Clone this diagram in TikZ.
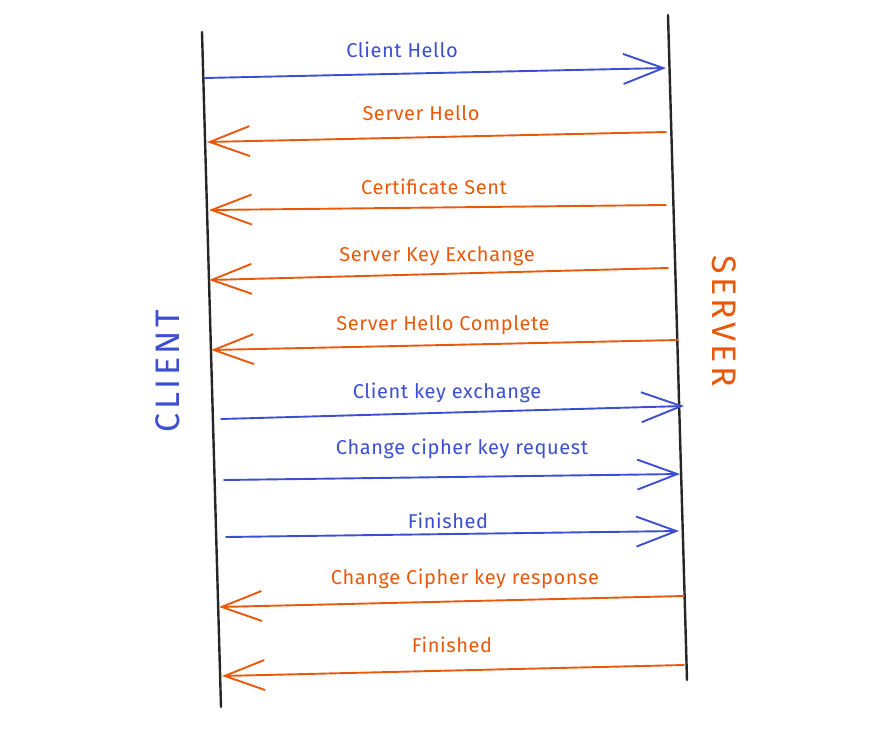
\documentclass[tikz,border=0pt]{standalone}
\usepackage{fontspec}
\setmainfont{Fira Sans}
\usetikzlibrary{arrows.meta}
\definecolor{cblue}{HTML}{3B4FD0}
\definecolor{corange}{HTML}{E8590C}
\tikzset{
  life/.style={draw=black!85, line width=2.4pt, line cap=round},
  msg/.style={line width=1.9pt, line cap=round, -{Straight Barb[length=40pt,width=30pt,line width=1.9pt]}},
  tomsg/.style={msg, draw=cblue},
  frommsg/.style={msg, draw=corange},
  lbl/.style={font=\fontsize{20}{24}\selectfont\addfontfeatures{LetterSpace=3}, inner sep=0pt},
  bl/.style={lbl, text=cblue},
  ol/.style={lbl, text=corange},
  party/.style={font=\fontsize{34}{40}\selectfont\addfontfeatures{LetterSpace=10}, inner sep=0pt},
}
\begin{document}
\begin{tikzpicture}[x=1pt,y=-1pt]
\useasboundingbox (0,0) rectangle (881,732);
% lifelines
\coordinate (c1) at (202,32); \coordinate (c2) at (221,707);
\coordinate (s1) at (668,15); \coordinate (s2) at (687,680);
\draw[life] (c1) -- (c2);
\draw[life] (s1) -- (s2);
\node[party, text=cblue, rotate=90] (client) at (168,371) {CLIENT};
\node[party, text=corange, rotate=-90] (server) at (724,321) {SERVER};
% messages
\coordinate (a1) at (204,78);  \coordinate (b1) at (666,68);
\coordinate (a2) at (666,132); \coordinate (b2) at (207,142);
\coordinate (a3) at (666,205); \coordinate (b3) at (209,210);
\coordinate (a4) at (668,268); \coordinate (b4) at (209,280);
\coordinate (a5) at (678,340); \coordinate (b5) at (211,350);
\coordinate (a6) at (221,419); \coordinate (b6) at (684,406);
\coordinate (a7) at (224,480); \coordinate (b7) at (680,474);
\coordinate (a8) at (226,537); \coordinate (b8) at (679,531);
\coordinate (a9) at (684,596); \coordinate (b9) at (219,607);
\coordinate (a10) at (684,665); \coordinate (b10) at (222,676);
\draw[tomsg] (a1) -- (b1);
\draw[frommsg] (a2) -- (b2);
\draw[frommsg] (a3) -- (b3);
\draw[frommsg] (a4) -- (b4);
\draw[frommsg] (a5) -- (b5);
\draw[tomsg] (a6) -- (b6);
\draw[tomsg] (a7) -- (b7);
\draw[tomsg] (a8) -- (b8);
\draw[frommsg] (a9) -- (b9);
\draw[frommsg] (a10) -- (b10);
% labels
\node[bl] (l1) at (402,50) {Client Hello};
\node[ol] (l2) at (421,113) {Server Hello};
\node[ol] (l3) at (434,187) {Certificate Sent};
\node[ol] (l4) at (437,256) {Server Key Exchange};
\node[ol] (l5) at (443,325) {Server Hello Complete};
\node[bl] (l6) at (447,393) {Client key exchange};
\node[bl] (l7) at (462,449) {Change cipher key request};
\node[bl] (l8) at (448,521) {Finished};
\node[ol] (l9) at (465,579) {Change Cipher key response};
\node[ol] (l10) at (452,645) {Finished};
\end{tikzpicture}
\end{document}
